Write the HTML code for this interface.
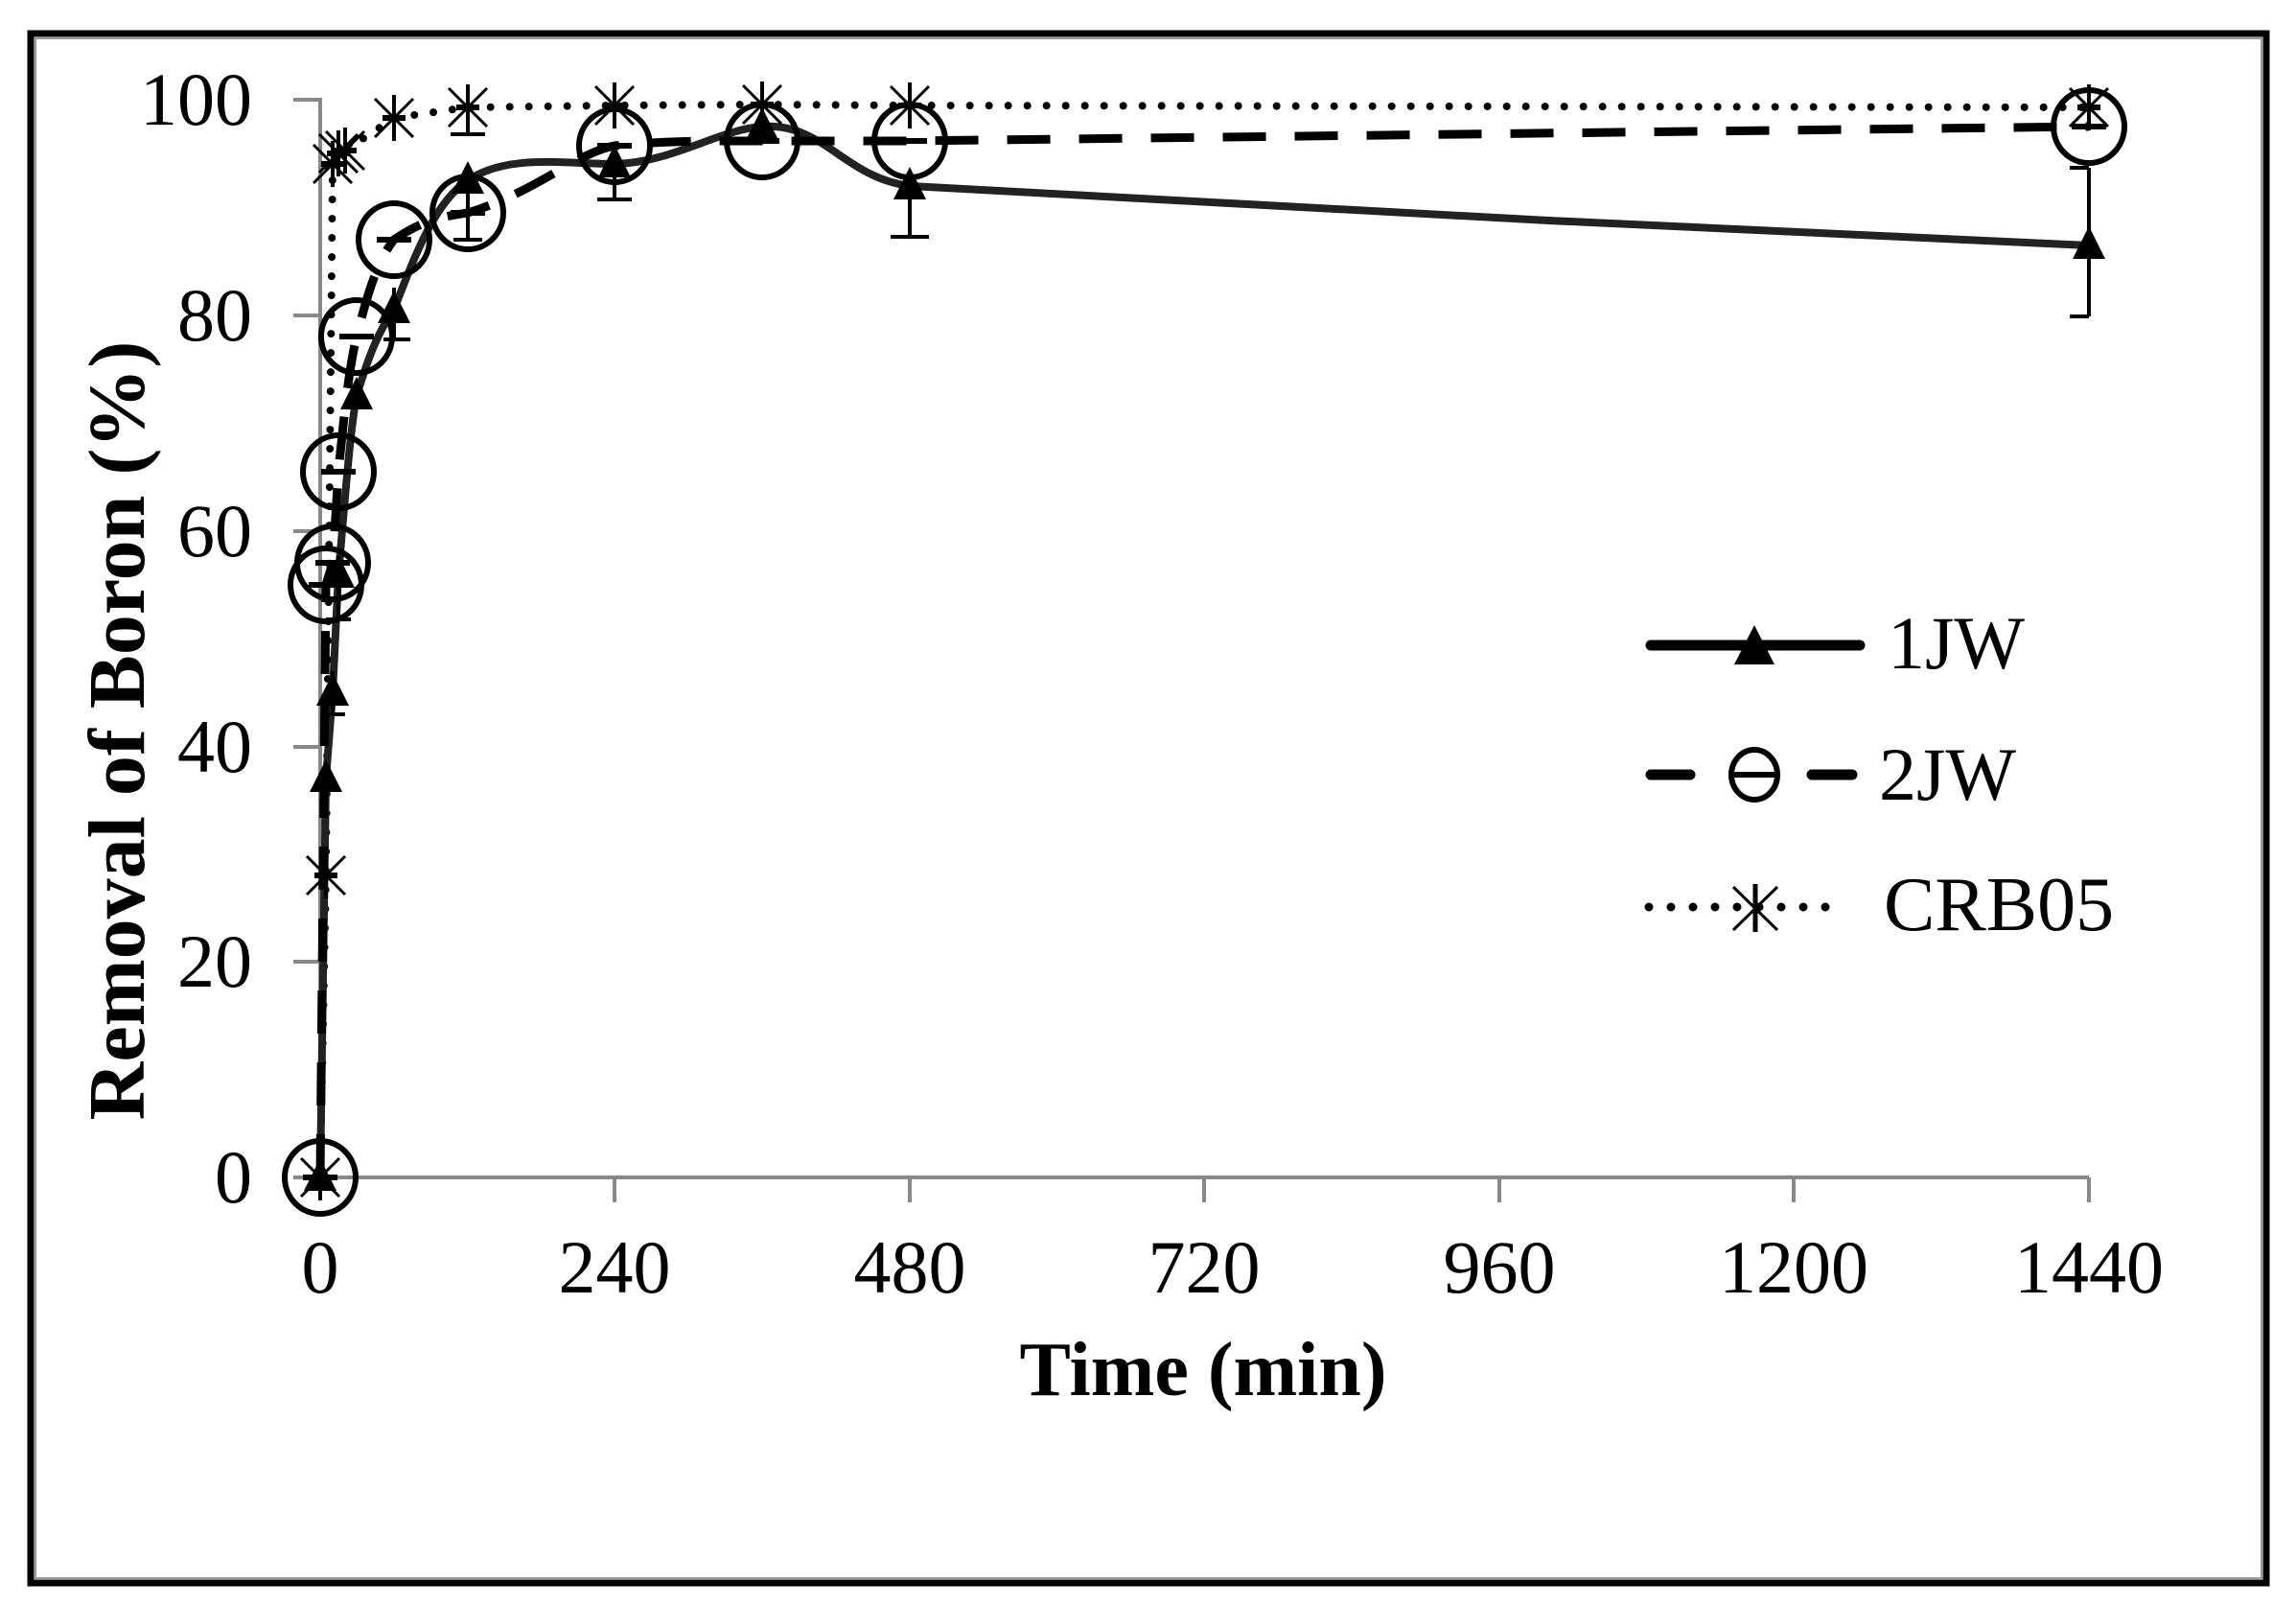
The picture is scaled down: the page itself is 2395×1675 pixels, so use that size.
<!DOCTYPE html>
<html><head><meta charset="utf-8"><style>
html,body{margin:0;padding:0;background:#fff;}
svg{display:block;}
text{font-family:"Liberation Serif",serif;fill:#000;}
</style></head><body>
<svg width="2395" height="1675" viewBox="0 0 2395 1675" xmlns="http://www.w3.org/2000/svg">
<defs>
<g id="ast" stroke="#000" stroke-width="3" fill="none">
<line x1="-20" y1="-20" x2="20" y2="20"/><line x1="-20" y1="20" x2="20" y2="-20"/><line x1="0" y1="-24" x2="0" y2="24" stroke-width="4"/><line x1="-12" y1="0" x2="12" y2="0" stroke-width="6"/>
</g>
<path id="tri" d="M0,-20 L17,14 L-17,14 Z" fill="#000"/>
<g id="circ"><ellipse cx="0" cy="0" rx="37" ry="38" fill="none" stroke="#000" stroke-width="6"/><line x1="-18" y1="0" x2="18" y2="0" stroke="#000" stroke-width="6"/></g>
</defs>
<rect x="0" y="0" width="2395" height="1675" fill="#fff"/>
<!-- frame -->
<rect x="32" y="35" width="2332" height="1616" fill="none" stroke="#000" stroke-width="7"/>
<rect x="37" y="40" width="2322" height="1606" fill="none" stroke="#999" stroke-width="2"/>
<!-- axes -->
<g stroke="#888" stroke-width="4" fill="none">
<line x1="334" y1="102" x2="334" y2="1228"/>
<line x1="334" y1="1228" x2="2179" y2="1228"/>
<line x1="306" y1="104" x2="334" y2="104"/>
<line x1="306" y1="329" x2="334" y2="329"/>
<line x1="306" y1="554" x2="334" y2="554"/>
<line x1="306" y1="779" x2="334" y2="779"/>
<line x1="306" y1="1003" x2="334" y2="1003"/>
<line x1="306" y1="1228" x2="334" y2="1228"/>
<line x1="641" y1="1228" x2="641" y2="1254"/>
<line x1="949" y1="1228" x2="949" y2="1254"/>
<line x1="1256" y1="1228" x2="1256" y2="1254"/>
<line x1="1564" y1="1228" x2="1564" y2="1254"/>
<line x1="1871" y1="1228" x2="1871" y2="1254"/>
<line x1="2179" y1="1228" x2="2179" y2="1254"/>
</g>
<!-- y labels -->
<g font-size="78" text-anchor="end">
<text x="263" y="130">100</text>
<text x="263" y="355">80</text>
<text x="263" y="580">60</text>
<text x="263" y="805">40</text>
<text x="263" y="1029">20</text>
<text x="263" y="1254">0</text>
</g>
<g font-size="78" text-anchor="middle">
<text x="334" y="1348">0</text>
<text x="641" y="1348">240</text>
<text x="949" y="1348">480</text>
<text x="1256" y="1348">720</text>
<text x="1564" y="1348">960</text>
<text x="1871" y="1348">1200</text>
<text x="2179" y="1348">1440</text>
</g>
<text x="1255" y="1455" font-size="80" font-weight="bold" text-anchor="middle">Time (min)</text>
<text transform="translate(150,762) rotate(-90)" font-size="84" font-weight="bold" text-anchor="middle">Removal of Boron (%)</text>

<!-- CRB05 dotted -->
<path d="M334,1228 L340,913 L347,171 L353,160 L360,157 L411,123 L488,112 L641,110 L795,109 L949,110 L2179,112" fill="none" stroke="#000" stroke-width="8" stroke-dasharray="0 20" stroke-linecap="round"/>
<!-- 1JW solid -->
<path d="M334,1228 L340,812 L347,722 L353,599 C360,520 365,450 372,413 C385,370 395,345 411,323 C435,260 455,210 488,188 C530,160 590,171 641,171 C700,170 750,135 795,132 C860,128 880,185 949,194 C1300,215 1800,240 2179,256" fill="none" stroke="#222" stroke-width="8"/>
<!-- 2JW dashed -->
<path d="M334,1228 L340,610 L347,587 L353,492 C360,420 365,380 372,351 C385,300 395,270 411,250 C440,230 460,226 488,222 C560,200 600,160 641,152 C700,146 760,147 795,147 L949,147 L2179,132" fill="none" stroke="#000" stroke-width="9" stroke-dasharray="45 30"/>

<!-- error bars -->
<g stroke="#000" stroke-width="4">
<line x1="488" y1="178" x2="488" y2="250"/><line x1="473" y1="250" x2="503" y2="250"/>
<line x1="641" y1="160" x2="641" y2="208"/><line x1="623" y1="208" x2="659" y2="208"/>
<line x1="949" y1="194" x2="949" y2="247"/><line x1="929" y1="247" x2="969" y2="247"/>
<line x1="2179" y1="175" x2="2179" y2="330"/><line x1="2159" y1="175" x2="2179" y2="175"/><line x1="2159" y1="330" x2="2179" y2="330"/>
<line x1="411" y1="300" x2="411" y2="354"/><line x1="400" y1="354" x2="428" y2="354"/>
<line x1="353" y1="580" x2="353" y2="646"/><line x1="340" y1="646" x2="366" y2="646"/>
<line x1="347" y1="700" x2="347" y2="745"/><line x1="334" y1="745" x2="360" y2="745"/>
<line x1="488" y1="112" x2="488" y2="140"/><line x1="470" y1="140" x2="506" y2="140"/>
</g>

<!-- CRB05 markers -->
<use href="#ast" x="340" y="913"/>
<use href="#ast" x="347" y="171"/><use href="#ast" x="353" y="160"/><use href="#ast" x="360" y="157"/>
<use href="#ast" x="411" y="123"/><use href="#ast" x="488" y="112"/><use href="#ast" x="641" y="110"/>
<use href="#ast" x="795" y="109"/><use href="#ast" x="949" y="110"/><use href="#ast" x="2179" y="112"/>
<use href="#ast" x="334" y="1228"/>
<!-- 2JW markers -->
<use href="#circ" x="334" y="1228"/>
<use href="#circ" x="340" y="610"/><use href="#circ" x="347" y="587"/><use href="#circ" x="353" y="492"/>
<use href="#circ" x="372" y="351"/><use href="#circ" x="411" y="250"/><use href="#circ" x="488" y="222"/>
<use href="#circ" x="641" y="152"/><use href="#circ" x="795" y="147"/><use href="#circ" x="949" y="147"/>
<use href="#circ" x="2179" y="132"/>
<!-- 1JW markers -->
<use href="#tri" x="334" y="1228"/>
<use href="#tri" x="340" y="812"/><use href="#tri" x="347" y="722"/><use href="#tri" x="353" y="599"/>
<use href="#tri" x="372" y="413"/><use href="#tri" x="411" y="323"/><use href="#tri" x="488" y="188"/>
<use href="#tri" x="641" y="171"/><use href="#tri" x="795" y="132"/><use href="#tri" x="949" y="194"/>
<use href="#tri" x="2179" y="256"/>

<!-- legend -->
<line x1="1722" y1="673" x2="1940" y2="673" stroke="#000" stroke-width="11" stroke-linecap="round"/>
<path d="M1830,652 L1851,693 L1809,693 Z" fill="#000"/>
<text x="1969" y="697" font-size="78">1JW</text>
<line x1="1722" y1="808" x2="1763" y2="808" stroke="#000" stroke-width="11" stroke-linecap="round"/>
<line x1="1890" y1="808" x2="1932" y2="808" stroke="#000" stroke-width="11" stroke-linecap="round"/>
<ellipse cx="1830" cy="808" rx="24" ry="26" fill="none" stroke="#000" stroke-width="6"/>
<line x1="1808" y1="808" x2="1852" y2="808" stroke="#000" stroke-width="6"/>
<text x="1960" y="834" font-size="78">2JW</text>
<line x1="1720" y1="946" x2="1922" y2="946" stroke="#000" stroke-width="9" stroke-dasharray="0 23" stroke-linecap="round"/>
<g stroke="#000" stroke-width="3"><line x1="1808" y1="925" x2="1854" y2="970"/><line x1="1808" y1="970" x2="1854" y2="925"/><line x1="1831" y1="922" x2="1831" y2="972" stroke-width="5"/></g>
<text x="1965" y="970" font-size="80">CRB05</text>
</svg>
</body></html>
